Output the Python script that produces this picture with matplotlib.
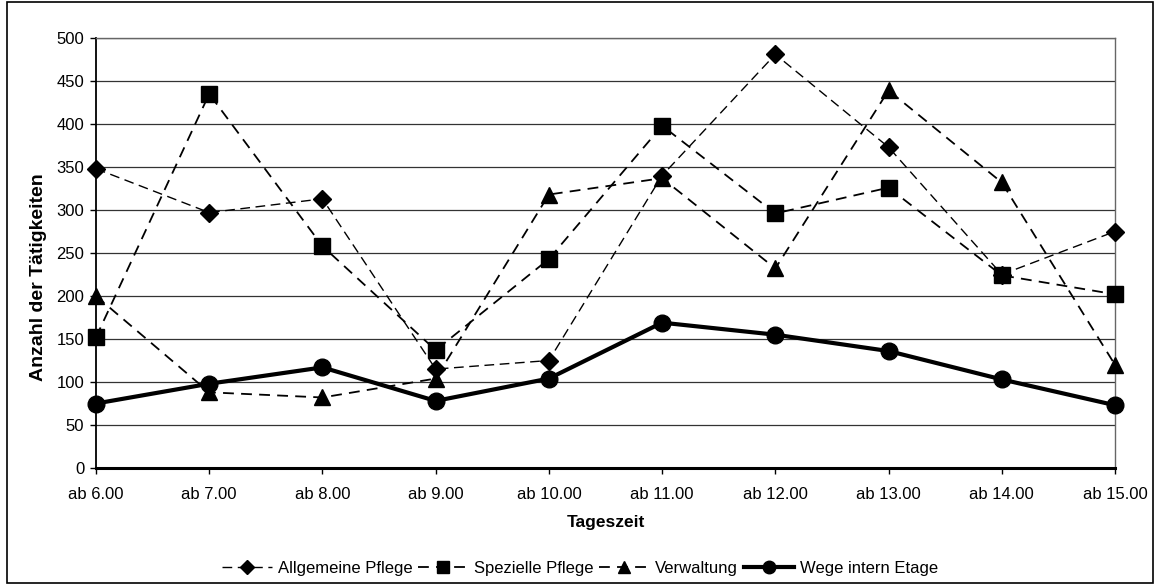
import matplotlib
matplotlib.use("Agg")
import matplotlib.pyplot as plt
from matplotlib.patches import Rectangle

plt.rcParams["font.family"] = ["Liberation Sans", "DejaVu Sans"]

# Daten
zeiten = ["ab 6.00", "ab 7.00", "ab 8.00", "ab 9.00", "ab 10.00",
          "ab 11.00", "ab 12.00", "ab 13.00", "ab 14.00", "ab 15.00"]
allgemeine_pflege = [348, 297, 313, 115, 125, 340, 481, 373, 225, 275]
spezielle_pflege = [152, 435, 258, 137, 243, 398, 296, 326, 224, 202]
verwaltung = [200, 88, 82, 104, 318, 337, 232, 439, 332, 120]
wege_intern = [75, 98, 117, 78, 104, 169, 155, 136, 103, 73]
y_ticks = list(range(0, 501, 50))

fig = plt.figure(figsize=(11.6, 5.84), dpi=100)
ax = fig.add_axes([96 / 1160, 1 - 468 / 584, (1115 - 96) / 1160, (468 - 38) / 584])

x = list(range(len(zeiten)))
ax.plot(x, allgemeine_pflege, color="black", lw=1.0, ls=(0, (7, 4)),
        marker="D", ms=9, label="Allgemeine Pflege", clip_on=False, zorder=3)
ax.plot(x, spezielle_pflege, color="black", lw=1.3, ls=(0, (6, 4)),
        marker="s", ms=11.5, label="Spezielle Pflege", clip_on=False, zorder=3)
ax.plot(x, verwaltung, color="black", lw=1.3, ls=(0, (6, 4)),
        marker="^", ms=12, label="Verwaltung", clip_on=False, zorder=3)
ax.plot(x, wege_intern, color="black", lw=3.0, ls="-",
        marker="o", ms=12, label="Wege intern Etage", clip_on=False, zorder=4)

ax.set_xlim(0, len(zeiten) - 1)
ax.set_ylim(0, 500)
ax.set_yticks(y_ticks)
ax.set_xticks(x)
ax.set_xticklabels(zeiten)
ax.tick_params(axis="both", labelsize=12, direction="out", length=4.5, width=1)
ax.tick_params(axis="x", pad=9)
ax.tick_params(axis="y", pad=4)
ax.yaxis.grid(True, color="#333333", lw=0.9)
ax.set_axisbelow(True)
for s in ["top", "right"]:
    ax.spines[s].set_color("#666666")
    ax.spines[s].set_linewidth(1.0)
ax.spines["left"].set_linewidth(1.3)
ax.spines["bottom"].set_linewidth(2.2)

ax.set_xlabel("Tageszeit", fontsize=12.5, fontweight="bold")
ax.xaxis.set_label_coords(0.5, (468 - 515) / 430)
ax.set_ylabel("Anzahl der Tätigkeiten", fontsize=14, fontweight="bold")
ax.yaxis.set_label_coords((47 - 96) / 1019, (468 - 277) / 430)

fig.legend(loc="center", bbox_to_anchor=(0.5, 1 - 568 / 584), ncol=4,
           frameon=False, fontsize=12, handlelength=3.0, columnspacing=0.35,
           handletextpad=0.35, markerscale=0.75)

fig.patches.append(Rectangle((7 / 1160, 1 / 584), 1146 / 1160, 581 / 584,
                             transform=fig.transFigure, fill=False,
                             edgecolor="black", lw=1.2))

fig.savefig("out.png", dpi=100)
